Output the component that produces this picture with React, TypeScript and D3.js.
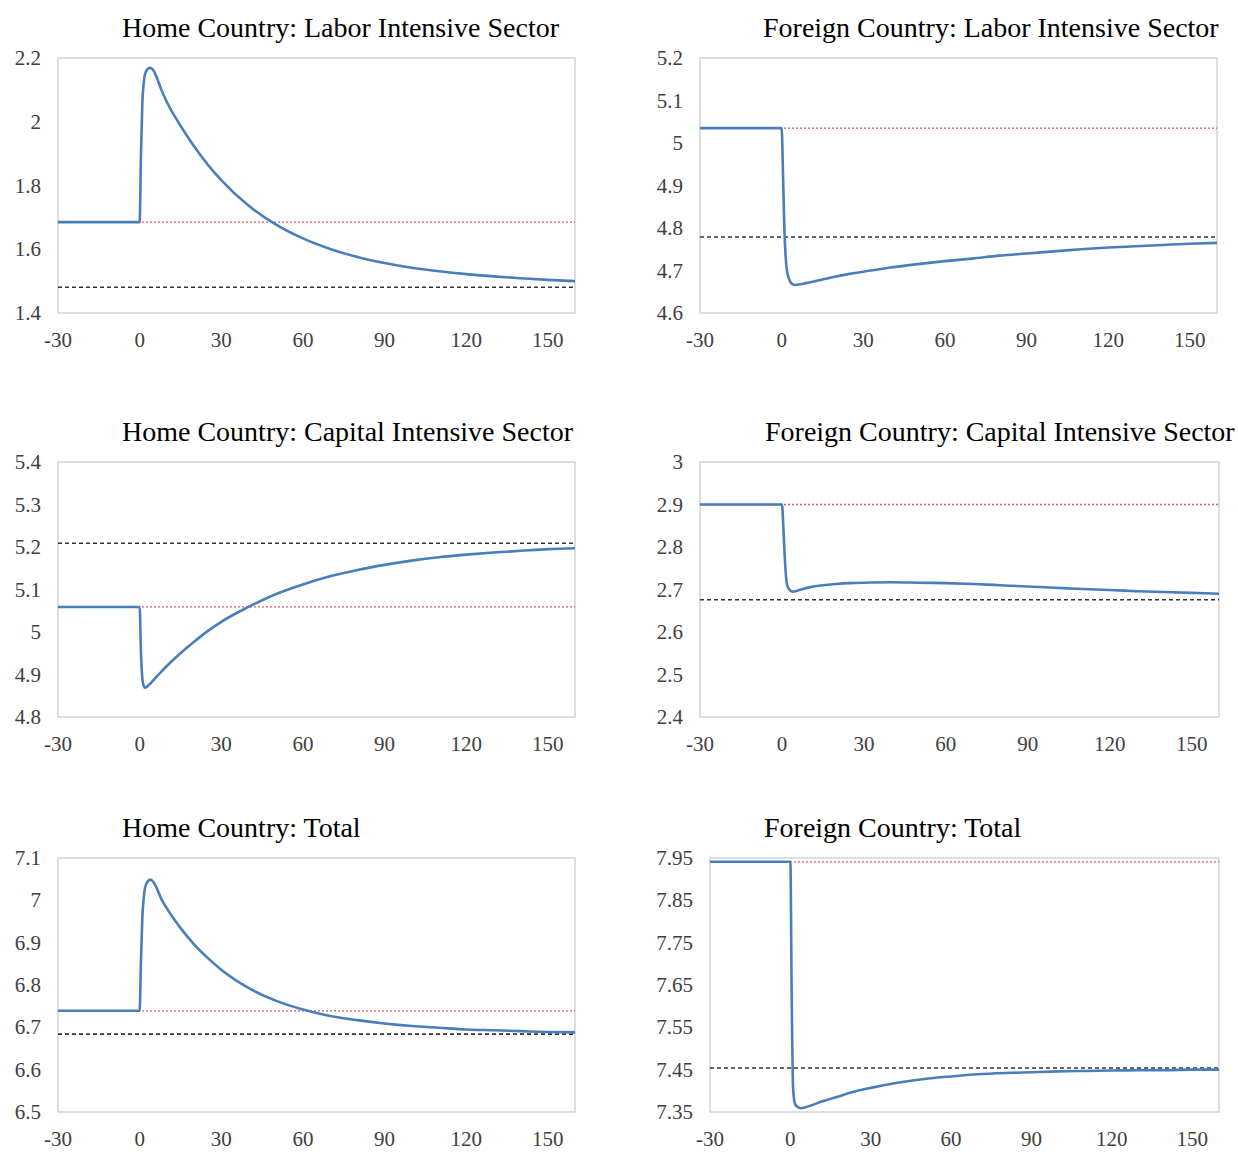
import * as d3 from "d3";

// time axis shared by all six panels (periods)
const periods = [-30, 0, 0.5, 1, 1.5, 2, 3, 4, 5, 6, 8, 10, 15, 20, 25, 30, 40, 50, 60, 70, 80, 90, 100, 110, 120, 130, 140, 150, 160];

const homeLabor = [1.685, 1.685, 1.9, 2.06, 2.12, 2.15, 2.166, 2.169, 2.162, 2.145, 2.1, 2.062, 1.988, 1.923, 1.866, 1.817, 1.737, 1.678, 1.634, 1.601, 1.576, 1.557, 1.542, 1.531, 1.522, 1.515, 1.509, 1.504, 1.5];
const foreignLabor = [5.035, 5.035, 4.93, 4.8, 4.73, 4.698, 4.676, 4.668, 4.666, 4.667, 4.669, 4.672, 4.679, 4.686, 4.692, 4.697, 4.707, 4.715, 4.722, 4.728, 4.735, 4.74, 4.745, 4.75, 4.754, 4.757, 4.76, 4.763, 4.765];
const homeCapital = [5.059, 5.059, 4.95, 4.89, 4.873, 4.869, 4.873, 4.879, 4.886, 4.893, 4.907, 4.92, 4.95, 4.977, 5.002, 5.024, 5.059, 5.089, 5.112, 5.131, 5.146, 5.158, 5.168, 5.176, 5.182, 5.187, 5.191, 5.195, 5.197];
const foreignCapital = [2.9, 2.9, 2.85, 2.78, 2.73, 2.708, 2.698, 2.695, 2.696, 2.698, 2.702, 2.705, 2.71, 2.713, 2.715, 2.716, 2.717, 2.716, 2.715, 2.713, 2.71, 2.707, 2.704, 2.701, 2.699, 2.696, 2.694, 2.692, 2.69];
const homeTotal = [6.739, 6.739, 6.86, 6.96, 7.005, 7.03, 7.045, 7.049, 7.044, 7.033, 7.003, 6.981, 6.935, 6.896, 6.864, 6.836, 6.793, 6.763, 6.742, 6.727, 6.717, 6.709, 6.703, 6.699, 6.695, 6.693, 6.691, 6.689, 6.688];
const foreignTotal = [7.941, 7.941, 7.62, 7.41, 7.375, 7.366, 7.361, 7.359, 7.36, 7.362, 7.366, 7.371, 7.381, 7.391, 7.4, 7.407, 7.419, 7.428, 7.434, 7.439, 7.442, 7.444, 7.446, 7.447, 7.448, 7.449, 7.449, 7.45, 7.45];

// old steady state (red dotted) and new steady state (black dashed)
const oldSteady = [1.685, 5.035, 5.059, 2.9, 6.739, 7.941];
const newSteady = [1.481, 4.779, 5.209, 2.676, 6.684, 7.454];

const titles = [
  "Home Country: Labor Intensive Sector",
  "Foreign Country: Labor Intensive Sector",
  "Home Country: Capital Intensive Sector",
  "Foreign Country: Capital Intensive Sector",
  "Home Country: Total",
  "Foreign Country: Total",
];

const xTicks = [-30, 0, 30, 60, 90, 120, 150];
const yTicks = [
  ["1.4", "1.6", "1.8", "2", "2.2"],
  ["4.6", "4.7", "4.8", "4.9", "5", "5.1", "5.2"],
  ["4.8", "4.9", "5", "5.1", "5.2", "5.3", "5.4"],
  ["2.4", "2.5", "2.6", "2.7", "2.8", "2.9", "3"],
  ["6.5", "6.6", "6.7", "6.8", "6.9", "7", "7.1"],
  ["7.35", "7.45", "7.55", "7.65", "7.75", "7.85", "7.95"],
];

const series = [homeLabor, foreignLabor, homeCapital, foreignCapital, homeTotal, foreignTotal];

// frame boxes of each panel: [left, right, top, bottom, titleX, titleY]
const boxes = [
  [58, 575, 58, 313, 122, 37],
  [700, 1217, 58, 313, 763, 37],
  [58, 575, 462, 717, 122, 441],
  [700, 1219, 462, 717, 765, 441],
  [58, 575, 858, 1112, 122, 837],
  [710, 1219, 858, 1112, 764, 837],
];

const font = "'Liberation Serif', 'Times New Roman', serif";

function Panel({ index }) {
  const [left, right, top, bottom, titleX, titleY] = boxes[index];
  const ticks = yTicks[index];
  const yMin = +ticks[0],
    yMax = +ticks[ticks.length - 1];
  const x = d3.scaleLinear().domain([-30, 160]).range([left, right]);
  const y = d3.scaleLinear().domain([yMin, yMax]).range([bottom, top]);
  const line = d3
    .line()
    .x((d) => x(d[0]))
    .y((d) => y(d[1]))
    .curve(d3.curveMonotoneX);
  const pts = periods.map((t, i) => [t, series[index][i]]);

  return (
    <g>
      <text x={titleX} y={titleY} fontSize={28} fontFamily={font} fill="#000">
        {titles[index]}
      </text>
      <rect x={left} y={top} width={right - left} height={bottom - top} fill="none" stroke="#d4d4d4" strokeWidth={1.5} />
      {ticks.map((t) => (
        <text key={t} x={left - 17} y={y(+t)} textAnchor="end" dominantBaseline="central" fontSize={21} fontFamily={font} fill="#404040">
          {t}
        </text>
      ))}
      {xTicks.map((t) => (
        <text key={t} x={x(t)} y={bottom + 27} textAnchor="middle" dominantBaseline="central" fontSize={21} fontFamily={font} fill="#404040">
          {t}
        </text>
      ))}
      <line x1={left} x2={right} y1={y(oldSteady[index])} y2={y(oldSteady[index])} stroke="#e05a5a" strokeWidth={1.3} strokeDasharray="2 2" />
      <line x1={left} x2={right} y1={y(newSteady[index])} y2={y(newSteady[index])} stroke="#333" strokeWidth={1.6} strokeDasharray="4 3" />
      <path d={line(pts)} fill="none" stroke="#4a7ebb" strokeWidth={2.6} />
    </g>
  );
}

export default function App() {
  return (
    <svg width={1238} height={1152} style={{ position: "absolute", left: 0, top: 0, background: "#fff" }}>
      {boxes.map((b, i) => (
        <Panel key={i} index={i} />
      ))}
    </svg>
  );
}
